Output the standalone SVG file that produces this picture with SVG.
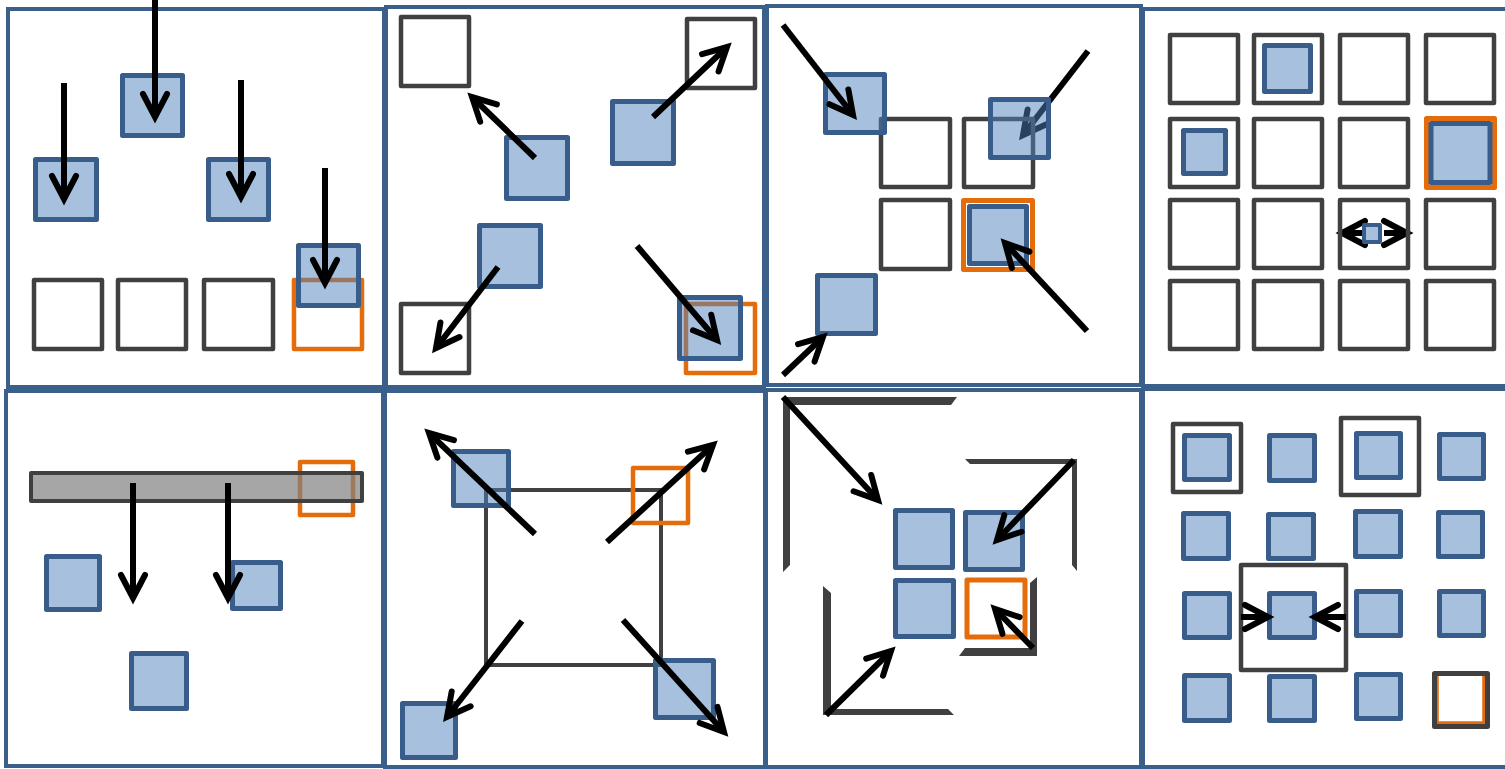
<svg xmlns="http://www.w3.org/2000/svg" width="1505" height="769" viewBox="0 0 1505 769">
<style>
.frame{fill:#fff;stroke:#3a5f8a;stroke-width:4}
.b{fill:#4f81bd;fill-opacity:.5;stroke:#385d8a;stroke-width:5;stroke-linejoin:round}
.g{fill:none;stroke:#404040;stroke-width:4.5;stroke-linejoin:round}
.o{fill:none;stroke:#e46c0a;stroke-width:4.5;stroke-linejoin:round}
.br{fill:#404040;stroke:none}
.bar{fill:#808080;fill-opacity:.7;stroke:#404040;stroke-width:4;stroke-linejoin:round}
.a{fill:none;stroke:#000;stroke-width:6;marker-end:url(#ah)}
</style>
<defs>
<marker id="ah" markerUnits="userSpaceOnUse" orient="auto" refX="0" refY="0" markerWidth="60" markerHeight="60" overflow="visible">
<path d="M-23,-12 L0,0 L-23,12" fill="none" stroke="#000" stroke-width="6" stroke-linecap="round" stroke-linejoin="miter"/>
</marker>
</defs>
<rect width="1505" height="769" fill="#fff"/>
<g id="frames">
<rect class="frame" x="8" y="9" width="376" height="378"/>
<rect class="frame" x="386" y="7" width="378" height="380"/>
<rect class="frame" x="767" y="6" width="374" height="379"/>
<rect class="frame" x="1143" y="9" width="366" height="377"/>
<rect class="frame" x="6" y="391" width="377" height="375"/>
<rect class="frame" x="385" y="391" width="380" height="376"/>
<rect class="frame" x="766" y="390" width="375" height="377"/>
<rect class="frame" x="1143" y="389" width="366" height="378"/>
</g>
<g id="connectors-under">
<path class="a" d="M1088,51 L1023,135"/>
<path class="a" d="M1364,233 L1342,233"/>
<path class="a" d="M1384,233 L1407,233"/>
</g>
<g id="panel1">
<g id="p1-slot1"><rect class="g" x="34" y="280" width="68" height="69"/></g>
<g id="p1-slot2"><rect class="g" x="118" y="280" width="68" height="69"/></g>
<g id="p1-slot3"><rect class="g" x="204" y="280" width="69" height="69"/></g>
<g id="p1-slot4"><rect class="o" x="294" y="280" width="68" height="69"/></g>
<g id="p1-sq1"><rect class="b" x="35.5" y="159.5" width="61" height="60"/></g>
<g id="p1-sq2"><rect class="b" x="122.5" y="75.5" width="60" height="60"/></g>
<g id="p1-sq3"><rect class="b" x="208.5" y="159.5" width="60" height="60"/></g>
<g id="p1-sq4"><rect class="b" x="298.5" y="245.5" width="60" height="60"/></g>
</g>
<g id="panel2">
<g id="p2-slot1"><rect class="g" x="401" y="17" width="68" height="69"/></g>
<g id="p2-slot2"><rect class="g" x="687" y="19" width="68" height="69"/></g>
<g id="p2-slot3"><rect class="g" x="401" y="304" width="68" height="69"/></g>
<g id="p2-slot4"><rect class="o" x="686" y="304" width="69" height="69"/></g>
<g id="p2-sq1"><rect class="b" x="506.5" y="137.5" width="61" height="61"/></g>
<g id="p2-sq2"><rect class="b" x="612.5" y="101.5" width="61" height="62"/></g>
<g id="p2-sq3"><rect class="b" x="479.5" y="225.5" width="61" height="61"/></g>
<g id="p2-sq4"><rect class="b" x="679.5" y="297.5" width="61" height="61"/></g>
</g>
<g id="panel3">
<g id="p3-slot1"><rect class="g" x="881" y="119" width="69" height="68"/></g>
<g id="p3-slot2"><rect class="g" x="964" y="119" width="69" height="68"/></g>
<g id="p3-slot3"><rect class="g" x="881" y="200" width="69" height="69"/></g>
<g id="p3-slot4"><rect class="o" x="963.5" y="200.5" width="69" height="69" style="stroke-width:5"/><rect class="b" x="969.5" y="206.5" width="57" height="57"/></g>
<g id="p3-sq1"><rect class="b" x="825.5" y="74.5" width="59" height="58"/></g>
<g id="p3-sq2"><rect class="b" x="990.5" y="99.5" width="58" height="58"/></g>
<g id="p3-sq3"><rect class="b" x="817.5" y="275.5" width="58" height="58"/></g>
</g>
<g id="panel4">
<g id="p4-r0c0"><rect class="g" x="1170" y="35" width="68" height="68"/></g>
<g id="p4-r0c1"><rect class="g" x="1254" y="35" width="68" height="68"/><rect class="b" x="1264.5" y="45.5" width="46" height="46"/></g>
<g id="p4-r0c2"><rect class="g" x="1340" y="35" width="68" height="68"/></g>
<g id="p4-r0c3"><rect class="g" x="1426" y="35" width="68" height="68"/></g>
<g id="p4-r1c0"><rect class="g" x="1170" y="119" width="68" height="68"/><rect class="b" x="1183.5" y="130.5" width="42" height="43"/></g>
<g id="p4-r1c1"><rect class="g" x="1254" y="119" width="68" height="68"/></g>
<g id="p4-r1c2"><rect class="g" x="1340" y="119" width="68" height="68"/></g>
<g id="p4-r1c3"><rect class="o" x="1426.5" y="118.5" width="68" height="69" style="stroke-width:5"/><rect class="b" x="1431" y="123.5" width="59" height="59"/></g>
<g id="p4-r2c0"><rect class="g" x="1170" y="200" width="68" height="68"/></g>
<g id="p4-r2c1"><rect class="g" x="1254" y="200" width="68" height="68"/></g>
<g id="p4-r2c2"><rect class="g" x="1340" y="200" width="68" height="68"/><rect class="b" x="1364" y="225" width="16" height="17" style="stroke-width:4"/></g>
<g id="p4-r2c3"><rect class="g" x="1426" y="200" width="68" height="68"/></g>
<g id="p4-r3c0"><rect class="g" x="1170" y="281" width="68" height="68"/></g>
<g id="p4-r3c1"><rect class="g" x="1254" y="281" width="68" height="68"/></g>
<g id="p4-r3c2"><rect class="g" x="1340" y="281" width="68" height="68"/></g>
<g id="p4-r3c3"><rect class="g" x="1426" y="281" width="68" height="68"/></g>
</g>
<g id="panel5">
<g id="p5-target"><rect class="o" x="300" y="462" width="53" height="53"/></g>
<g id="p5-bar"><rect class="bar" x="31" y="473" width="331" height="28"/></g>
<g id="p5-sq1"><rect class="b" x="46.5" y="556.5" width="53" height="53"/></g>
<g id="p5-sq2"><rect class="b" x="232.5" y="562.5" width="48" height="46"/></g>
<g id="p5-sq3"><rect class="b" x="131.5" y="653.5" width="55" height="55"/></g>
</g>
<g id="panel6">
<g id="p6-box"><rect class="g" x="486" y="490" width="175" height="175" style="stroke-width:4"/></g>
<g id="p6-sq1"><rect class="b" x="453.5" y="451.5" width="55" height="54"/></g>
<g id="p6-target"><rect class="o" x="633" y="468" width="55" height="55"/></g>
<g id="p6-sq2"><rect class="b" x="402.5" y="703.5" width="53" height="54"/></g>
<g id="p6-sq3"><rect class="b" x="655.5" y="660.5" width="58" height="57"/></g>
</g>
<g id="panel7">
<g id="p7-bracket1"><polygon class="br" points="783,397 957,397 951,405 790,405 790,565 783,572"/></g>
<g id="p7-bracket2"><polygon class="br" points="965,459 1077,459 1077,571 1072,565 1072,464 970,464"/></g>
<g id="p7-bracket3"><polygon class="br" points="823,586 831,593 831,709 948,709 954,715 823,715"/></g>
<g id="p7-bracket4"><polygon class="br" points="1030,583 1037,577 1037,656 959,656 965,648 1030,648"/></g>
<g id="p7-sq1"><rect class="b" x="895.5" y="510.5" width="57" height="57"/></g>
<g id="p7-sq2"><rect class="b" x="965.5" y="512.5" width="57" height="57"/></g>
<g id="p7-sq3"><rect class="b" x="895.5" y="580.5" width="58" height="56"/></g>
<g id="p7-target"><rect class="o" x="967" y="580" width="58" height="57" style="stroke-width:5"/></g>
</g>
<g id="panel8">
<g id="p8-r0c0"><rect class="b" x="1184.5" y="435.5" width="45" height="44"/></g>
<g id="p8-r0c1"><rect class="b" x="1269.5" y="435.5" width="45" height="45"/></g>
<g id="p8-r0c2"><rect class="b" x="1356.5" y="433.5" width="44" height="44"/></g>
<g id="p8-r0c3"><rect class="b" x="1439.5" y="434.5" width="44" height="44"/></g>
<g id="p8-r1c0"><rect class="b" x="1183.5" y="513.5" width="45" height="45"/></g>
<g id="p8-r1c1"><rect class="b" x="1268.5" y="514.5" width="45" height="44"/></g>
<g id="p8-r1c2"><rect class="b" x="1355.5" y="511.5" width="45" height="45"/></g>
<g id="p8-r1c3"><rect class="b" x="1438.5" y="512.5" width="44" height="44"/></g>
<g id="p8-r2c0"><rect class="b" x="1184.5" y="593.5" width="45" height="44"/></g>
<g id="p8-r2c1"><rect class="b" x="1269.5" y="593.5" width="45" height="44"/></g>
<g id="p8-r2c2"><rect class="b" x="1356.5" y="591.5" width="44" height="44"/></g>
<g id="p8-r2c3"><rect class="b" x="1439.5" y="591.5" width="44" height="44"/></g>
<g id="p8-r3c0"><rect class="b" x="1184.5" y="675.5" width="45" height="45"/></g>
<g id="p8-r3c1"><rect class="b" x="1269.5" y="676.5" width="45" height="44"/></g>
<g id="p8-r3c2"><rect class="b" x="1356.5" y="674.5" width="44" height="44"/></g>
<g id="p8-r3c3"><rect class="o" x="1437" y="674" width="47" height="49" style="stroke-width:3.5"/><rect class="g" x="1434.5" y="673.5" width="53" height="53" style="stroke-width:5"/></g>
<g id="p8-frame1"><rect class="g" x="1173" y="424" width="68" height="68"/></g>
<g id="p8-frame2"><rect class="g" x="1341" y="418" width="78" height="77"/></g>
<g id="p8-frame3"><rect class="g" x="1241" y="565" width="105" height="105"/></g>
</g>
<g id="connectors">
<path class="a" d="M64,83 L64,199"/>
<path class="a" d="M155,0 L155,117"/>
<path class="a" d="M241,80 L241,197"/>
<path class="a" d="M325,168 L325,283"/>
<path class="a" d="M535,158 L472,97"/>
<path class="a" d="M653,117 L727,47"/>
<path class="a" d="M498,267 L436,348"/>
<path class="a" d="M637,246 L717,340"/>
<path class="a" d="M783,25 L853,115"/>
<path class="a" d="M1087,331 L1005,243"/>
<path class="a" d="M783,375 L823,337"/>
<path class="a" d="M133,483 L133,598"/>
<path class="a" d="M228,483 L228,598"/>
<path class="a" d="M535,534 L429,433"/>
<path class="a" d="M607,542 L713,445"/>
<path class="a" d="M522,621 L447,717"/>
<path class="a" d="M623,620 L724,732"/>
<path class="a" d="M783,397 L878,500"/>
<path class="a" d="M1074,460 L997,540"/>
<path class="a" d="M1033,648 L995,609"/>
<path class="a" d="M826,715 L891,651"/>
<path class="a" d="M1241,617 L1268,617"/>
<path class="a" d="M1346,617 L1315,617"/>
</g>
</svg>
